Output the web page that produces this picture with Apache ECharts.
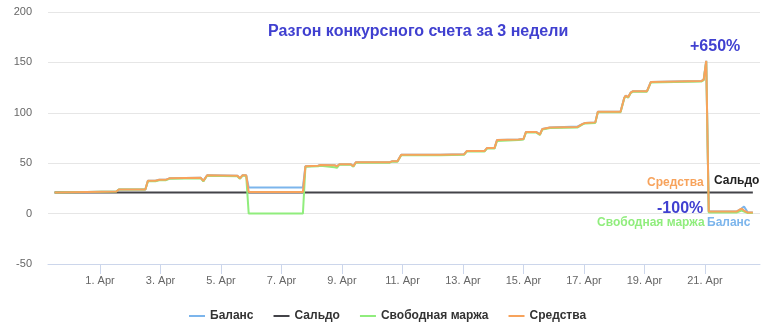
<!DOCTYPE html>
<html>
<head>
<meta charset="utf-8">
<script src="https://cdn.jsdelivr.net/npm/echarts@6/dist/echarts.min.js"></script>
<style>
html,body{margin:0;padding:0;background:#fff;}
#chart{width:778px;height:328px;}
</style>
</head>
<body>
<div id="chart"></div>
<script>
// ---- data ----
const chartTitle = 'Разгон конкурсного счета за 3 недели';
const seriesNames = ['Баланс', 'Сальдо', 'Свободная маржа', 'Средства'];
const seriesColors = ['#7cb5ec', '#434348', '#90ed7d', '#f7a35c'];

const times = [
  '2025-03-30 12:00','2025-03-30 14:00','2025-03-30 15:00','2025-04-01 13:00','2025-04-01 15:00',
  '2025-04-02 12:00','2025-04-02 14:00','2025-04-02 20:00','2025-04-02 23:00','2025-04-03 04:00',
  '2025-04-03 07:00','2025-04-04 08:00','2025-04-04 10:00','2025-04-04 13:00','2025-04-05 13:00',
  '2025-04-05 15:00','2025-04-05 17:00','2025-04-05 20:00','2025-04-05 22:00','2025-04-07 17:00',
  '2025-04-07 19:00','2025-04-08 05:00','2025-04-08 07:00','2025-04-08 18:00','2025-04-08 20:00',
  '2025-04-08 22:00','2025-04-09 07:00','2025-04-09 09:00','2025-04-09 11:00','2025-04-10 14:00',
  '2025-04-10 16:00','2025-04-10 20:00','2025-04-10 23:00','2025-04-12 06:00','2025-04-13 01:00',
  '2025-04-13 03:00','2025-04-13 17:00','2025-04-13 19:00','2025-04-14 01:00','2025-04-14 03:00',
  '2025-04-14 20:00','2025-04-15 00:00','2025-04-15 02:00','2025-04-15 10:00','2025-04-15 13:00',
  '2025-04-15 15:00','2025-04-15 21:00','2025-04-16 19:00','2025-04-16 23:00','2025-04-17 01:00',
  '2025-04-17 09:00','2025-04-17 11:00','2025-04-18 05:00','2025-04-18 08:00','2025-04-18 09:00',
  '2025-04-18 11:00','2025-04-18 13:00','2025-04-18 15:00','2025-04-19 02:00','2025-04-19 05:00',
  '2025-04-20 00:00','2025-04-20 21:00','2025-04-20 23:00','2025-04-21 01:00','2025-04-21 03:00',
  '2025-04-22 01:00','2025-04-22 05:00','2025-04-22 07:00','2025-04-22 10:00','2025-04-22 14:00'
];
const equity = [
  21,21,22,22,24, 24,32.5,32.5,33.5,33.5, 35,35.5,32.5,38,37.5, 35,38,38,21.5,21.5,
  47,47.5,48.2,48,47, 49,49,47,51,51, 52,52,58.5,58.5,59, 62,62,65,65,73,
  73.5,74,81,81,78.5, 84,85.5,86,89,90, 90.5,101,101,115,117, 115.5,120,121.5,121.5,130.5,
  131,131.5,133,151.5,2, 2,5,3,1,1
];
const balance = [
  21,21,22,22,24, 24,32.5,32.5,33.5,33.5, 35,35.5,32.5,38,37.5, 35,38,38,26,26,
  47,47.5,48.2,48,47, 49,49,47,51,51, 52,52,58.5,58.5,59, 62,62,65,65,73,
  73.5,74,81,81,78.5, 84,85.5,86.5,89,90, 90.5,101,101,115,117, 115.5,120,121.5,121.5,130.5,
  131,131.5,133,151.5,2, 2,5,7,1,1
];
const freeMargin = [
  21,21,22,22,24, 24,32,32,33,33, 34.5,35,32,37.5,37, 34.5,37.5,37.5,0,0,
  46.5,47,47.5,46,45.5, 48.5,48.5,46.5,50.5,50.5, 51.5,51.5,58,58,58.5, 61.5,61.5,64.5,64.5,72,
  73,73.5,80.5,80.5,78, 83.5,85,85.5,88.5,89.5, 90,100.5,100.5,114.5,116.5, 115,119.5,121,121,130,
  130.5,131,132.5,151,1, 1,3,2,0.5,0.5
];
const saldoTimes = ['2025-03-30 12:00', '2025-04-22 14:00'];
const saldo = [21, 21];

const xRange = ['2025-03-30 06:45', '2025-04-22 19:40'];
const xTickDates = ['2025-04-01 00:00','2025-04-03 00:00','2025-04-05 00:00','2025-04-07 00:00',
                    '2025-04-09 00:00','2025-04-11 00:00','2025-04-13 00:00','2025-04-15 00:00',
                    '2025-04-17 00:00','2025-04-19 00:00','2025-04-21 00:00'];
const yMin = -50, yMax = 200, yStep = 50;

const annotations = [
  {text: '+650%', color: '#4040d0', size: 16, x: 690, y: 47},
  {text: '-100%', color: '#4040d0', size: 16, x: 657, y: 209},
  {text: 'Средства', color: '#f7a35c', size: 12, x: 647, y: 182.5},
  {text: 'Сальдо', color: '#222222', size: 12, x: 714, y: 180.5},
  {text: 'Свободная маржа', color: '#90ed7d', size: 12, x: 597, y: 223},
  {text: 'Баланс', color: '#7cb5ec', size: 12, x: 707, y: 223}
];

// ---- build ----
const FONT = '"Liberation Sans", Arial, sans-serif';
const ts = s => {
  const m = s.match(/(\d+)-(\d+)-(\d+) (\d+):(\d+)/);
  return Date.UTC(+m[1], +m[2] - 1, +m[3], +m[4], +m[5]);
};
const pair = (tArr, vArr) => tArr.map((t, i) => [ts(t), vArr[i]]);

const seriesData = [pair(times, balance), pair(saldoTimes, saldo), pair(times, freeMargin), pair(times, equity)];
const tickValues = xTickDates.map(ts);

const chart = echarts.init(document.getElementById('chart'), null, {renderer: 'canvas'});
chart.setOption({
  animation: false,
  backgroundColor: '#ffffff',
  title: {
    text: chartTitle, left: 268, top: 24, padding: 0,
    textStyle: {color: '#4040d0', fontSize: 16, fontWeight: 'bold', fontFamily: FONT}
  },
  grid: {left: 48, right: 18, top: 12, bottom: 64, containLabel: false},
  legend: {
    left: 184, top: 305, itemGap: 20, itemWidth: 16, itemHeight: 2, icon: 'rect',
    textStyle: {color: '#333333', fontSize: 12, fontWeight: 'bold', fontFamily: FONT},
    data: seriesNames
  },
  xAxis: {
    type: 'value', min: ts(xRange[0]), max: ts(xRange[1]),
    axisLine: {onZero: false, lineStyle: {color: '#ccd6eb', width: 1}},
    axisTick: {show: true, length: 10, lineStyle: {color: '#ccd6eb'}, customValues: tickValues},
    axisLabel: {
      customValues: tickValues, color: '#666666', fontSize: 11, fontFamily: FONT, margin: 11,
      formatter: v => new Date(v).getUTCDate() + '. Apr'
    },
    splitLine: {show: false}
  },
  yAxis: {
    type: 'value', min: yMin, max: yMax, interval: yStep,
    axisLine: {show: false}, axisTick: {show: false},
    axisLabel: {color: '#666666', fontSize: 11, fontFamily: FONT, margin: 16},
    splitLine: {lineStyle: {color: '#e6e6e6', width: 1}}
  },
  series: seriesNames.map((name, i) => ({
    name, type: 'line', data: seriesData[i], showSymbol: false, symbol: 'none',
    color: seriesColors[i], lineStyle: {width: 2, color: seriesColors[i]},
    z: 2 + i, silent: true
  })),
  graphic: annotations.map(a => ({
    type: 'text', x: a.x, y: a.y, z: 100,
    style: {
      text: a.text, fill: a.color, font: 'bold ' + a.size + 'px ' + FONT,
      align: 'left', verticalAlign: 'middle',
      stroke: '#ffffff', lineWidth: a.size > 14 ? 0 : 2
    }
  }))
});
</script>
</body>
</html>
